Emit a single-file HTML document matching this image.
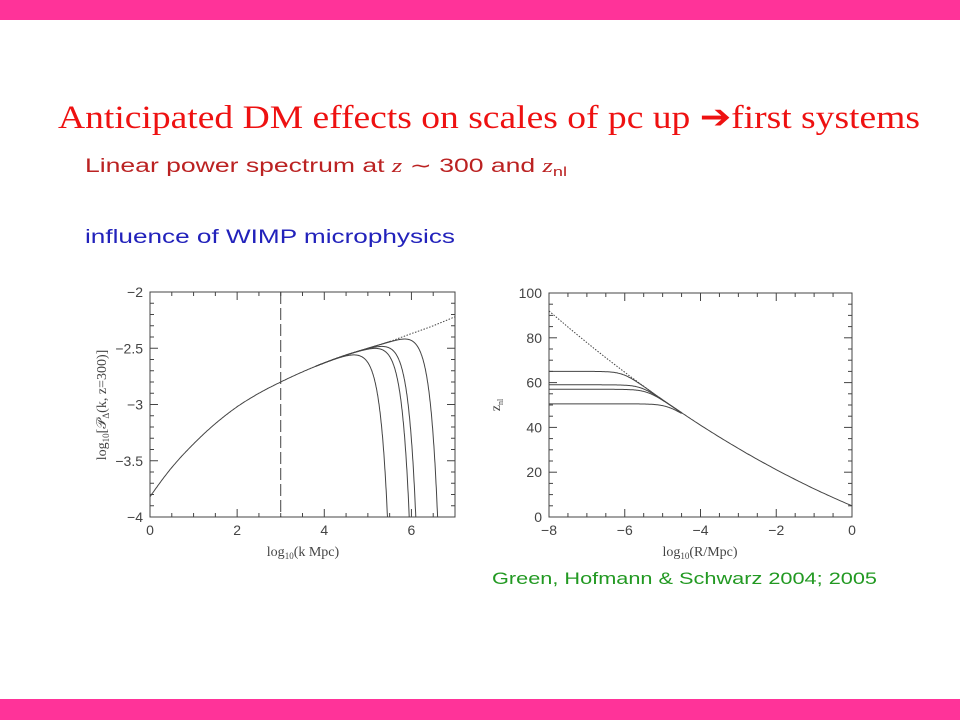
<!DOCTYPE html>
<html><head><meta charset="utf-8"><style>
html,body{margin:0;padding:0;background:#fff;width:960px;height:720px;overflow:hidden}
</style></head><body>
<svg id="s" width="960" height="720" xmlns="http://www.w3.org/2000/svg">
<rect x="0" y="0" width="960" height="20" fill="#ff3399"/>
<rect x="0" y="699" width="960" height="21" fill="#ff3399"/>
<text x="58" y="128" font-family="Liberation Serif, serif" font-size="33" fill="#ee1111" textLength="862" lengthAdjust="spacingAndGlyphs">Anticipated DM effects on scales of pc up <tspan font-family="DejaVu Sans, sans-serif" font-weight="bold">➔</tspan>first systems</text>
<text x="85" y="172" font-family="Liberation Sans, sans-serif" font-size="19" fill="#bb2222" textLength="482" lengthAdjust="spacingAndGlyphs">Linear power spectrum at <tspan font-family="Liberation Serif, serif" font-style="italic">z</tspan> ∼ 300 and <tspan font-family="Liberation Serif, serif" font-style="italic">z</tspan><tspan font-size="13" dy="4">nl</tspan></text>
<text x="85" y="243" font-family="Liberation Sans, sans-serif" font-size="19" fill="#2222bb" textLength="370" lengthAdjust="spacingAndGlyphs">influence of WIMP microphysics</text>
<text x="492" y="584" font-family="Liberation Sans, sans-serif" font-size="17" fill="#229922" textLength="385" lengthAdjust="spacingAndGlyphs">Green, Hofmann &amp; Schwarz 2004; 2005</text>
<g id="g" fill="none" stroke="#444" stroke-width="1"></g>
<g id="t" font-family="Liberation Sans, sans-serif" font-size="14" fill="#444"></g>
<text x="0" y="0" transform="translate(106,405) rotate(-90)" text-anchor="middle" font-family="Liberation Serif, serif" font-size="14" fill="#444">log<tspan font-size="9" dy="3">10</tspan><tspan dy="-3">[𝒫</tspan><tspan font-size="9" dy="3">Δ</tspan><tspan dy="-3">(k,  z=300)]</tspan></text>
<text x="303" y="556" text-anchor="middle" font-family="Liberation Serif, serif" font-size="14" fill="#444">log<tspan font-size="9" dy="3">10</tspan><tspan dy="-3">(k  Mpc)</tspan></text>
<text x="700" y="556" text-anchor="middle" font-family="Liberation Serif, serif" font-size="14" fill="#444">log<tspan font-size="9" dy="3">10</tspan><tspan dy="-3">(R/Mpc)</tspan></text>
<text x="0" y="0" transform="translate(500,405) rotate(-90)" text-anchor="middle" font-family="Liberation Serif, serif" font-size="14" fill="#444">z<tspan font-size="8" dy="3">nl</tspan></text>
</svg>
<script>
var g=document.getElementById('g'),t=document.getElementById('t');
function el(p,tag,a,txt){var e=document.createElementNS('http://www.w3.org/2000/svg',tag);for(var k in a)e.setAttribute(k,a[k]);if(txt!=null)e.textContent=txt;p.appendChild(e);return e;}
function axes(X0,X1,Y0,Y1,xa,xb,ya,yb,xmaj,xmin,ymaj,ymin,fmtx,fmty){
 el(g,'rect',{x:X0,y:Y0,width:X1-X0,height:Y1-Y0});
 var sx=function(v){return X0+(v-xa)/(xb-xa)*(X1-X0)}, sy=function(v){return Y1-(v-ya)/(yb-ya)*(Y1-Y0)};
 var n=Math.round((xb-xa)/xmin);for(var i=0;i<=n;i++){var v=xa+i*xmin,x=sx(v),maj=Math.abs(v/xmaj-Math.round(v/xmaj))<1e-6,L=maj?8:4;
  el(g,'line',{x1:x,y1:Y1,x2:x,y2:Y1-L});el(g,'line',{x1:x,y1:Y0,x2:x,y2:Y0+L});
  if(maj)el(t,'text',{x:x,y:Y1+18,'text-anchor':'middle'},fmtx(v));}
 n=Math.round((yb-ya)/ymin);for(i=0;i<=n;i++){v=ya+i*ymin;var y=sy(v);maj=Math.abs(v/ymaj-Math.round(v/ymaj))<1e-6;L=maj?8:4;
  el(g,'line',{x1:X0,y1:y,x2:X0+L,y2:y});el(g,'line',{x1:X1,y1:y,x2:X1-L,y2:y});
  if(maj)el(t,'text',{x:X0-7,y:y+5,'text-anchor':'end'},fmty(v));}
 return [sx,sy];}
function f(v){v=Math.round(v*10)/10;return (v<0?'−':'')+Math.abs(v);}
var A=axes(150,455,292,517,0,7,-4,-2,2,0.5,0.5,0.1,f,f),sx=A[0],sy=A[1];
var pts=[[-0.5,-4.12],[0,-3.82],[0.5,-3.56],[1,-3.35],[1.5,-3.17],[2,-3.02],[2.5,-2.9],[3,-2.8],[3.5,-2.71],[4,-2.63],[4.5,-2.56],[5,-2.5],[5.5,-2.44],[6,-2.37],[6.5,-2.3],[7,-2.22],[7.5,-2.14]];
function interp(k){for(var i=1;i<pts.length-2;i++)if(k<=pts[i+1][0]){var p0=pts[i-1][1],p1=pts[i][1],p2=pts[i+1][1],p3=pts[i+2][1],u=(k-pts[i][0])/0.5;
 return 0.5*((2*p1)+(-p0+p2)*u+(2*p0-5*p1+4*p2-p3)*u*u+(-p0+3*p1-3*p2+p3)*u*u*u);}return -2.22;}
var d='';for(var k=0;k<=5.5;k+=0.02)d+=(k?'L':'M')+sx(k).toFixed(1)+','+sy(interp(k)).toFixed(1);
el(g,'path',{d:d});
d='';for(k=5.5;k<=7.001;k+=0.05)d+=(k>5.5?'L':'M')+sx(k).toFixed(1)+','+sy(interp(k)).toFixed(1);
el(g,'path',{d:d,'stroke-dasharray':'1.5,1.5'});
[5.45,5.95,6.1,6.6].forEach(function(kc){var d='',w=0.18,c=interp(kc)+4;
 for(var k=3.8;k<=kc+0.001;k+=0.005){var y=interp(k)-c*Math.exp((k-kc)/w);if(y<-4)y=-4;
  d+=(d?'L':'M')+sx(k).toFixed(1)+','+sy(y).toFixed(1);}
 el(g,'path',{d:d});});
el(g,'line',{x1:sx(3),y1:292,x2:sx(3),y2:517,'stroke-dasharray':'12,4'});
var B=axes(549,852,293,517,-8,0,0,100,2,0.5,20,5,f,f),rx=B[0],ry=B[1];
function zs(r){return 5+7.125*(-r)+0.469*r*r;}
d='';for(var r=-4.5;r<=0.001;r+=0.05)d+=(d?'L':'M')+rx(r).toFixed(1)+','+ry(zs(r)).toFixed(1);
el(g,'path',{d:d});
d='';for(r=-8;r<=-5.3;r+=0.05)d+=(d?'L':'M')+rx(r).toFixed(1)+','+ry(zs(r)).toFixed(1);
el(g,'path',{d:d,'stroke-dasharray':'1.5,1.5'});
[65,59,57,50.5].forEach(function(p){var d='';for(var r=-8;r<=-4.5;r+=0.02){var z=zs(r),s=2.2;
 var m=-s*Math.log(Math.exp(-z/s)+Math.exp(-p/s));d+=(d?'L':'M')+rx(r).toFixed(1)+','+ry(m).toFixed(1);}el(g,'path',{d:d});});
</script>
</body></html>
